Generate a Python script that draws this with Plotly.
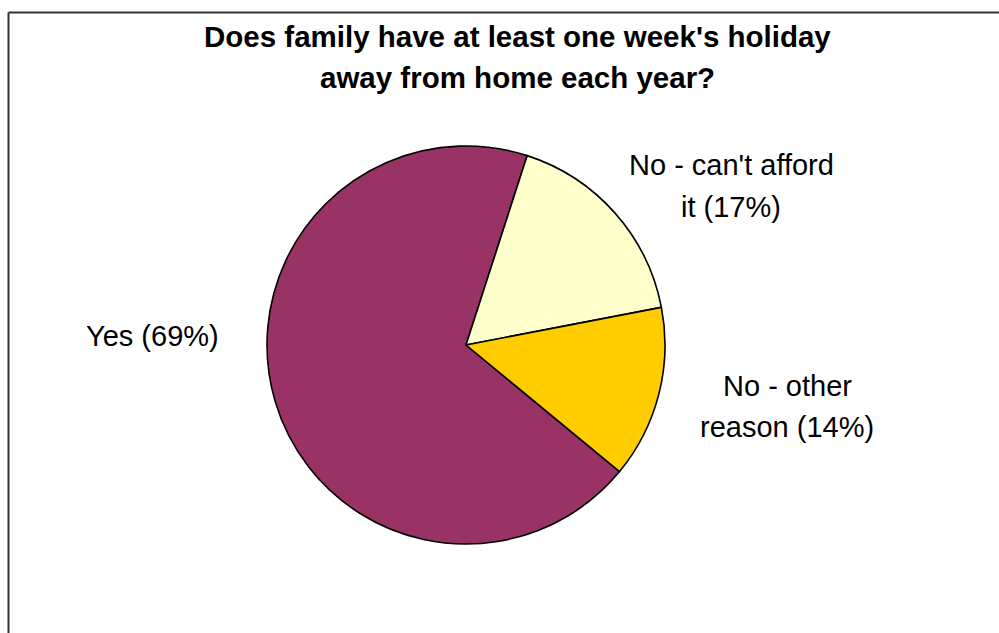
import plotly.graph_objects as go

# Data
title_lines = ["Does family have at least one week's holiday", "away from home each year?"]
labels = ["Yes", "No - can't afford it", "No - other reason"]
values = [69, 17, 14]
colors = ["#993366", "#FFFFCC", "#FFCC00"]
label_lines = [["Yes (69%)"], ["No - can't afford", "it (17%)"], ["No - other", "reason (14%)"]]

W, H = 999, 633
cx, cy, r = 466, 345, 199

fig = go.Figure(go.Pie(
    labels=labels, values=values, sort=False, direction="clockwise",
    rotation=129.5, textinfo="none", hoverinfo="label+percent",
    marker=dict(colors=colors, line=dict(color="black", width=1.6)),
    domain=dict(x=[(cx - r) / W, (cx + r) / W], y=[(H - cy - r) / H, (H - cy + r) / H]),
    showlegend=False,
))

anns = []
# title lines
title_pos = [(517, 36), (517, 78)]
for t, (x, y) in zip(title_lines, title_pos):
    anns.append(dict(text=f"<b>{t}</b>", x=x / W, y=1 - y / H, xref="paper", yref="paper",
                     showarrow=False, xanchor="center", yanchor="middle",
                     font=dict(family="Liberation Sans, Arial", size=29.5, color="black")))
label_pos = [[(152, 336)], [(731, 165), (731, 207)], [(787, 386), (787, 427)]]
for lines, poss in zip(label_lines, label_pos):
    for t, (x, y) in zip(lines, poss):
        anns.append(dict(text=t, x=x / W, y=1 - y / H, xref="paper", yref="paper",
                         showarrow=False, xanchor="center", yanchor="middle",
                         font=dict(family="Liberation Sans, Arial", size=29, color="black")))

shapes = [
    dict(type="line", xref="paper", yref="paper", x0=8.5 / W, x1=1.02, y0=1 - 12.5 / H, y1=1 - 12.5 / H,
         line=dict(color="#333333", width=2)),
    dict(type="line", xref="paper", yref="paper", x0=8.5 / W, x1=8.5 / W, y0=1 - 12.5 / H, y1=-0.02,
         line=dict(color="#333333", width=2)),
]

fig.update_layout(width=W, height=H, margin=dict(l=0, r=0, t=0, b=0),
                  paper_bgcolor="white", plot_bgcolor="white",
                  annotations=anns, shapes=shapes)
fig.write_html("out.html")
